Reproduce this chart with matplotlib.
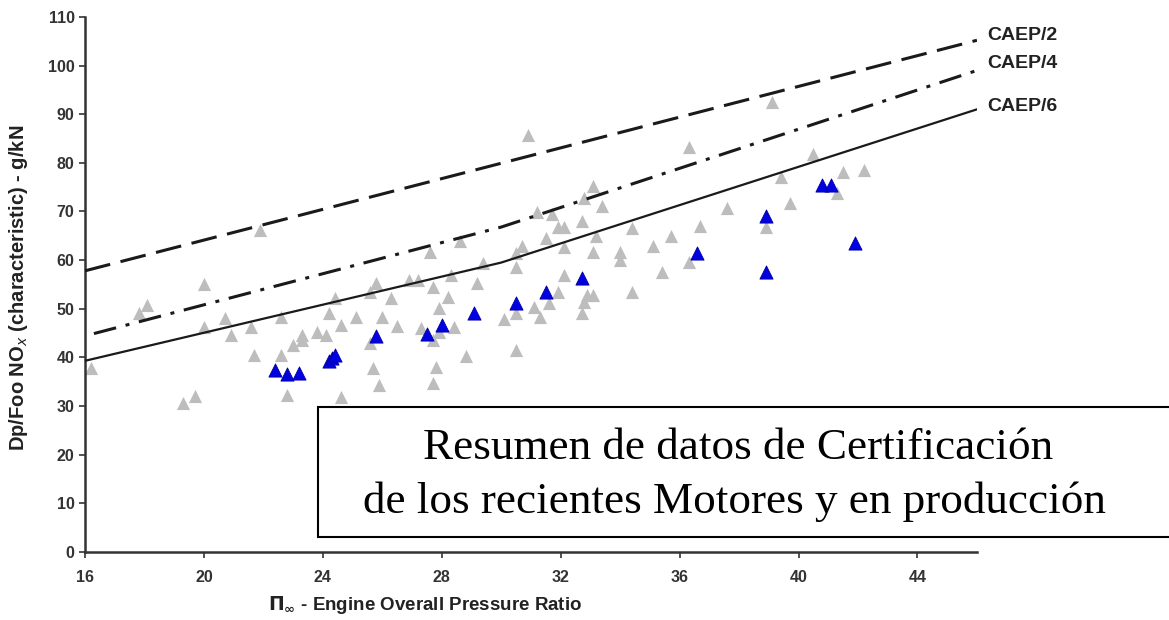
import matplotlib
matplotlib.use('Agg')
import matplotlib.pyplot as plt
from matplotlib.patches import Rectangle

plt.rcParams['font.family'] = ['Liberation Sans', 'DejaVu Sans']

# certification data
gray_x = [16.2, 17.8, 18.1, 20.0, 20.0, 20.7, 20.9, 21.6, 21.7, 19.3, 19.7, 21.9,
          22.6, 22.6, 22.8, 23.0, 23.3, 23.3, 23.8, 24.1, 24.2, 24.4, 24.6, 24.6,
          25.1, 25.6, 25.7, 25.9, 26.0, 25.6, 25.8, 26.3, 26.5, 26.9, 27.2, 27.7,
          27.6, 28.6, 28.3, 28.2, 27.9, 28.4, 27.3, 27.9, 27.7, 28.8, 27.8, 27.7,
          29.2, 29.4, 30.5, 30.5, 30.7, 30.9, 31.2, 31.7, 31.5, 31.9, 32.1, 32.1,
          32.1, 32.7, 32.8, 33.1, 33.4, 33.2, 33.1, 34.0, 34.0, 34.4, 35.1, 35.4,
          34.4, 31.9, 32.9, 33.1, 31.6, 32.8, 31.1, 30.5, 32.7, 31.3, 30.1, 30.5,
          35.7, 36.3, 36.7, 36.3, 37.6, 38.9, 39.1, 39.4, 39.7, 40.5, 41.3, 41.5,
          42.2]
gray_y = [37.8, 49.1, 50.8, 55.1, 46.3, 48.1, 44.6, 46.3, 40.5, 30.6, 32.1, 66.2,
          48.3, 40.5, 32.3, 42.6, 43.6, 44.6, 45.2, 44.6, 49.1, 52.2, 46.7, 31.9,
          48.3, 43.0, 37.8, 34.3, 48.3, 53.5, 55.3, 52.2, 46.5, 55.9, 55.9, 54.5,
          61.7, 64.0, 57.0, 52.4, 50.2, 46.3, 46.0, 45.2, 43.6, 40.3, 38.0, 34.7,
          55.3, 59.4, 58.6, 61.5, 62.9, 85.7, 69.9, 69.5, 64.6, 66.8, 66.8, 62.7,
          57.0, 68.0, 72.8, 75.2, 71.1, 65.0, 61.7, 61.7, 60.0, 66.6, 62.9, 57.6,
          53.5, 53.5, 52.8, 52.8, 51.2, 51.4, 50.4, 49.1, 49.1, 48.3, 47.9, 41.5,
          65.0, 59.6, 67.0, 83.3, 70.7, 66.8, 92.5, 77.1, 71.8, 81.8, 73.8, 78.1,
          78.5]

blue_x = [22.4, 22.8, 23.2, 24.2, 24.3, 24.4, 25.8, 27.5, 28.0, 29.1, 30.5, 31.5,
          32.7, 36.6, 38.9, 38.9, 40.8, 41.1, 41.9]
blue_y = [37.4, 36.6, 36.8, 39.2, 39.8, 40.4, 44.4, 44.8, 46.7, 49.1, 51.2, 53.5,
          56.3, 61.5, 69.1, 57.6, 75.5, 75.5, 63.5]

# regulatory limit lines (break points)
caep2_x = [16, 46]
caep2_y = [57.8, 105.2]
caep4_x = [16.3, 30, 46]
caep4_y = [44.9, 66.8, 99.0]
caep6_x = [16, 30, 46]
caep6_y = [39.3, 59.5, 91.0]

fig = plt.figure(figsize=(11.69, 6.2), dpi=100)
ax = fig.add_axes([0.0727, 0.1097, 0.763, 0.863])

ax.scatter(gray_x, gray_y, marker='^', s=90, color='#bdbdbd', linewidths=0, zorder=2)
ax.scatter(blue_x, blue_y, marker='^', s=90, color='#0000e0', edgecolors='#0000a0',
           linewidths=0.6, zorder=3)

ax.plot(caep2_x, caep2_y, color='#1a1a1a', lw=2.2, dashes=(8.5, 3.5), zorder=4)
ax.plot(caep4_x, caep4_y, color='#1a1a1a', lw=2.2, dashes=(7.5, 3.2, 1.3, 3.2), zorder=4)
ax.plot(caep6_x, caep6_y, color='#1a1a1a', lw=1.6, zorder=4)

for name, yv in [('CAEP/2', 106.2), ('CAEP/4', 100.4), ('CAEP/6', 91.6)]:
    ax.text(46.35, yv, name, fontsize=14, fontweight='bold', color='#222222',
            va='center', ha='left', clip_on=False)

ax.set_xlim(16, 46)
ax.set_ylim(0, 110)
ax.set_xticks(range(16, 45, 4))
ax.set_yticks(range(0, 111, 10))
ax.tick_params(labelsize=11.5, colors='#333333', length=4, width=1.2)
ax.tick_params(axis='x', pad=9)
for lab in ax.get_xticklabels() + ax.get_yticklabels():
    lab.set_fontweight('bold')
ax.spines['top'].set_visible(False)
ax.spines['right'].set_visible(False)
ax.spines['left'].set_linewidth(1.8)
ax.spines['bottom'].set_linewidth(1.8)
ax.spines['left'].set_color('#333333')
ax.spines['bottom'].set_color('#333333')

fig.text(0.0154, 0.535, 'Dp/Foo NO$_x$ (characteristic) - g/kN', rotation=90,
         fontsize=14.5, fontweight='bold', color='#222222', ha='center', va='center')
fig.text(0.364, 0.024, r'$\mathbf{\Pi_{\infty}}$ - Engine Overall Pressure Ratio',
         fontsize=13.5, fontweight='bold', color='#222222', ha='center', va='center')

# caption box laid over the plot
box = Rectangle((0.272, 0.134), 0.75, 0.2095, transform=fig.transFigure,
                facecolor='white', edgecolor='black', lw=1.5, zorder=10, clip_on=False)
fig.patches.append(box)
fig.text(0.631, 0.277, 'Resumen de datos de Certificación', fontsize=32.5,
         family='Liberation Serif', ha='center', va='center', zorder=11)
fig.text(0.628, 0.190, 'de los recientes Motores y en producción', fontsize=32.5,
         family='Liberation Serif', ha='center', va='center', zorder=11)

fig.savefig('out.png', dpi=100)
